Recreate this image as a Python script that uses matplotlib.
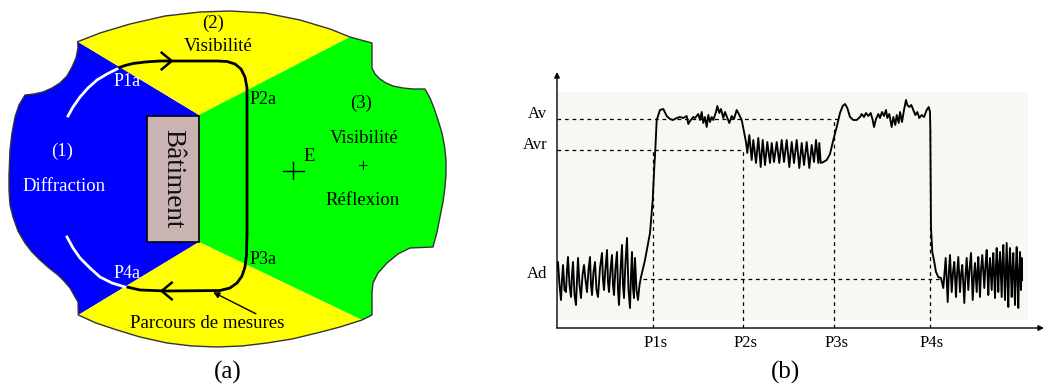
import matplotlib
matplotlib.use("Agg")
import matplotlib.pyplot as plt
from matplotlib.patches import Polygon, Rectangle

plt.rcParams['font.family'] = ['Liberation Serif', 'DejaVu Serif']

# ---------------- panel (a): schematic (pixel-like units, y downward) ----------------
top_arc = [(77.7, 41.7), (100, 33), (130, 24), (165, 16), (200, 12), (230, 11),
           (265, 13), (300, 20), (330, 29), (350, 37)]
right_edge = [(350, 37), (372, 43), (372, 68), (375, 74), (380, 79), (386, 83), (393, 86),
              (403, 88), (413, 89), (425, 89), (430, 98), (434, 108), (438, 120),
              (442, 133), (444.5, 146), (446, 160), (446, 174), (445, 187), (443, 202),
              (440, 217), (437, 232), (433, 247), (410, 248), (398, 254), (387, 263),
              (378, 273), (373, 283), (372, 293), (372, 315), (362, 320)]
bottom_arc = [(362, 320), (340, 327), (317, 333), (292, 339), (267, 343), (242, 346),
              (217, 347), (192, 346), (167, 343), (140, 337), (117, 330), (96, 323),
              (78.3, 315)]
left_edge = [(78.3, 315), (78, 302), (74, 295), (70, 288), (64, 281), (58, 275), (49, 268),
             (40, 260), (32, 252), (25, 243), (18, 231), (13, 217), (10, 205), (9, 190),
             (9, 175), (10, 150), (12, 133), (15, 117), (19, 105), (25, 95), (34, 94),
             (43, 92), (52, 88), (60, 83), (67, 76), (72, 67), (76, 58), (78, 48),
             (77.7, 41.7)]
center_top = (199, 115)
center_bottom = (199, 242)
building = (147, 116, 52, 126)   # x, y, width, height

route_x = [118, 125, 133, 145, 160, 217, 227, 235, 241, 245, 247, 247, 246.5, 245, 242,
           237, 230, 220, 167, 140, 127]
route_y = [68, 65.5, 63.5, 62, 61, 61, 61.5, 64, 69, 77, 88, 233, 255, 267, 276,
           283, 288, 290.5, 291, 290, 287]
white_up_x = [68, 73, 80, 88, 97, 107, 117]
white_up_y = [116, 107, 97, 88, 80, 74, 69]
white_down_x = [67, 73, 80, 90, 100, 112, 125]
white_down_y = [237, 248, 258, 268, 277, 283, 287]

zone_colors = {'blue': '#0000ff', 'yellow': '#ffff00', 'green': '#00ff00',
               'building': '#c9b3b3'}

labels_a = [
    ("(2)", 213, 23, 'black', 13.5),
    ("Visibilité", 218, 46, 'black', 13.5),
    ("P1a", 127, 81, 'white', 13),
    ("P2a", 263, 99, 'black', 13),
    ("(3)", 361, 103, 'black', 13.5),
    ("Visibilité", 364, 138, 'black', 13.5),
    ("+", 363, 168, 'black', 13.5),
    ("Réflexion", 363, 200, 'black', 13.5),
    ("E", 309, 156, 'black', 13.5),
    ("(1)", 62, 151, 'white', 13.5),
    ("Diffraction", 64, 186, 'white', 13.5),
    ("P3a", 263, 259, 'black', 13),
    ("P4a", 127, 274, 'white', 13),
    ("Parcours de mesures", 207, 324, 'black', 13.5),
]

# ---------------- panel (b): signal ----------------
signal_x = [0, 1, 2.5, 4, 5, 6, 7.5, 9, 10, 11, 12.5, 14, 15, 16, 17.5, 19, 20, 21, 22.5, 24,
            25.5, 27, 28.5, 30, 31.5, 33, 34, 35, 36.5, 38, 39.5, 41, 43, 45, 46, 47, 48.5, 50,
            51, 52, 53.5, 55, 56, 57, 58.5, 60, 61, 62, 63.5, 65, 66, 67, 68.5, 70, 71.5, 73,
            74, 75, 76, 77, 77.5, 78, 79.5, 81, 82.5, 84,
            88, 93, 95.7, 97.3, 98.3, 99.7, 103, 106.3, 109.7, 113,
            116, 119.7, 123, 126.3, 129.7, 131.3, 133, 136.3, 138, 141.3, 143, 144.7, 146.3,
            148, 149.7, 151.3, 153, 154.7, 156.3, 159, 160.3, 162.3, 164, 166.3, 168, 170.3,
            172.3, 174.7, 177, 179.7, 182.3, 184.7, 187, 189,
            190.3, 192.3, 194.7, 196.3, 199, 201.3, 203.7, 205.7, 208, 210.3, 213, 214.7, 217,
            219.7, 222.3, 224.7, 227, 229.7, 232.3, 234.7, 237, 239.7, 242.3, 244.7, 247, 249.7,
            252.3, 254.7, 257, 259, 261.3, 262.3, 263.7, 266.3, 269.7, 273,
            276.3, 279.7, 283, 285.7, 288, 290.3, 293, 296.3, 299.7, 303, 304.7, 307, 309,
            311.3, 313.7, 315.7, 317, 319, 321.3, 323, 325, 327, 329, 330.3, 332.3, 334.7,
            336.3, 338.3, 339.7, 341.7, 343, 345, 347, 349, 350.3, 352.3, 354.3, 356.3, 358.3,
            360.3, 362.3, 364.7, 367, 369.7, 371.7, 373,
            373.3, 373.6, 374, 375.3, 377.3, 379, 381.3, 384,
            386.3, 388.7, 390.7, 392, 393, 394.7, 396, 397.3, 399, 400, 401.3, 403, 404, 405.3,
            407.3, 408.5, 409.7, 411.3, 412.5, 414, 415.7, 417, 418, 419.7, 420.5, 421.3, 423,
            424, 425.3, 427.3, 428.5, 429.7, 431.3, 432, 433, 434.7, 435.5, 436.3, 438, 439,
            439.7, 441.3, 442, 443, 444.7, 445.5, 446.3, 448, 449, 449.7, 451.3, 452, 453,
            454.7, 455.5, 456.3, 458, 459, 459.7, 461.3, 462, 463, 464, 464.7, 465]
signal_y = [58, 66, 43, 28, 48, 63, 38, 36, 58, 71, 43, 31, 53, 66, 33, 23, 48, 70, 43, 30,
            53, 63, 48, 36, 58, 71, 43, 33, 56, 66, 38, 31, 60, 75, 48, 38, 60, 78,
            46, 36, 58, 73, 43, 33, 60, 76, 38, 23, 58, 83, 43, 30, 66, 90, 38, 20,
            53, 76, 40, 30, 58, 70, 38, 28, 43, 51,
            68, 95, 128, 161, 178, 208, 218, 219, 212, 209,
            208, 210, 211, 210, 212, 204, 207, 211, 210, 214, 208, 216, 205,
            211, 201, 213, 206, 211, 208, 216, 222, 215, 219, 210, 216, 210,
            205, 212, 209, 218, 213, 208, 196, 186,
            175, 193, 168, 188, 165, 190, 161, 188, 163, 186, 165, 185, 166,
            186, 165, 188, 166, 188, 161, 186, 165, 188, 160, 185, 163, 186,
            160, 183, 166, 188, 165, 185, 165, 166, 168, 174,
            188, 201, 215, 222, 224, 220, 211, 208, 208, 211, 214, 211, 215,
            212, 215, 208, 201, 209, 214, 210, 216, 212, 218, 210, 214, 201,
            211, 203, 213, 205, 216, 206, 218, 228, 223, 221, 223, 218, 213,
            216, 210, 213, 211, 218, 221, 216,
            200, 150, 100, 76, 66, 56, 51, 50,
            40, 70, 26, 58, 73, 36, 56, 66, 31, 53, 71, 36, 53, 63,
            25, 53, 70, 38, 58, 75, 28, 53, 65, 36, 56, 71, 31,
            58, 73, 40, 63, 78, 33, 53, 70, 38, 60, 75, 30, 63,
            80, 36, 60, 76, 31, 66, 83, 28, 63, 85, 21, 58, 80,
            31, 58, 75, 23, 63, 81, 20, 53, 76, 38, 70, 48]

level_names = ['Av', 'Avr', 'Ad']
level_values = [209, 178, 49]
level_line_start = [0, 0, 86]
level_line_end = [281, 186.3, 386]

point_names = ['P1s', 'P2s', 'P3s', 'P4s']
point_positions = [96.3, 186.3, 277.3, 373]
point_line_top = [178, 180, 208, 200]

# ---------------- figure ----------------
W, H = 1045, 389
fig = plt.figure(figsize=(W / 100, H / 100), dpi=100)
fig.patch.set_facecolor('white')

ax1 = fig.add_axes([0, 0, 1, 1])
ax1.set_xlim(0, W)
ax1.set_ylim(H, 0)
ax1.axis('off')

blue_poly = [top_arc[0], center_top, center_bottom] + left_edge
ax1.add_patch(Polygon(blue_poly, closed=True, fc=zone_colors['blue'], ec='none', zorder=1))
ax1.add_patch(Polygon(top_arc + [center_top], closed=True, fc=zone_colors['yellow'], ec='none', zorder=1))
ax1.add_patch(Polygon(right_edge + [center_bottom, center_top], closed=True,
                      fc=zone_colors['green'], ec='none', zorder=1))
ax1.add_patch(Polygon([center_bottom] + bottom_arc, closed=True, fc=zone_colors['yellow'], ec='none', zorder=1))
outline = top_arc + right_edge[1:] + bottom_arc[1:] + left_edge[1:]
ax1.add_patch(Polygon(outline, closed=True, fill=False, ec='#333333', lw=1.0,
                      joinstyle='round', zorder=2))

bx, by, bw, bh = building
ax1.add_patch(Rectangle((bx, by), bw, bh, fc=zone_colors['building'], ec='black', lw=1.2, zorder=3))
ax1.text(bx + bw / 2, by + bh / 2, "Bâtiment", rotation=-90, ha='center', va='center',
         fontsize=19.5, color='#111111', zorder=4)

ax1.plot(route_x, route_y, color='black', lw=2, solid_capstyle='round', solid_joinstyle='round', zorder=4)
ax1.plot(white_up_x, white_up_y, color='white', lw=2, solid_joinstyle='round', zorder=4)
ax1.plot(white_down_x, white_down_y, color='white', lw=2, solid_joinstyle='round', zorder=4)
# direction chevrons
ax1.plot([161.7, 171.7, 161.7], [52.7, 61, 69.3], color='black', lw=1.8, zorder=5)
ax1.plot([171.7, 161.7, 171.7], [282.7, 291, 299.3], color='black', lw=1.8, zorder=5)
# pointer arrow to the route
ax1.annotate('', xy=(210.7, 291), xytext=(258.3, 315),
             arrowprops=dict(arrowstyle='-|>', color='black', lw=1, mutation_scale=9), zorder=5)
# transmitter cross
ax1.plot([283, 304], [171, 171], color='black', lw=1, zorder=5)
ax1.plot([293, 293], [162, 179], color='black', lw=1, zorder=5)

for txt, x, y, col, fs in labels_a:
    ax1.text(x, y, txt, ha='center', va='center', color=col, fontsize=fs, zorder=6)

ax1.text(228, 372, "(a)", ha='center', va='center', fontsize=18)
ax1.text(785, 372, "(b)", ha='center', va='center', fontsize=18)

# ---- panel (b)
ax2 = fig.add_axes([557 / W, 61 / H, 488 / W, 256 / H])
ax2.set_xlim(0, 488)
ax2.set_ylim(0, 256)
ax2.axis('off')
ax2.patch.set_alpha(0)
ax2.add_patch(Rectangle((0, 8), 471, 228, fc='#f5f9f1', ec='none', zorder=0))

ax2.annotate('', xy=(0, 256), xytext=(0, 0), annotation_clip=False,
             arrowprops=dict(arrowstyle='-|>', color='black', lw=1, mutation_scale=8, shrinkA=0, shrinkB=0))
ax2.annotate('', xy=(487, 0), xytext=(0, 0), annotation_clip=False,
             arrowprops=dict(arrowstyle='-|>', color='black', lw=1, mutation_scale=8, shrinkA=0, shrinkB=0))

dash = (0, (3, 3))
for name, val, x0, x1 in zip(level_names, level_values, level_line_start, level_line_end):
    ax2.plot([x0, x1], [val, val], color='black', lw=0.9, linestyle=dash, zorder=2)
    ax2.text(-10, val + 5, name, ha='right', va='center', fontsize=12, clip_on=False)

for name, pos, top in zip(point_names, point_positions, point_line_top):
    ax2.plot([pos, pos], [0, top], color='black', lw=0.9, linestyle=dash, zorder=2)
    ax2.text(pos + 2, -15, name, ha='center', va='center', fontsize=12, clip_on=False)

ax2.plot(signal_x, signal_y, color='black', lw=1.35, solid_joinstyle='round', zorder=3)

fig.savefig('out.png', dpi=100)
